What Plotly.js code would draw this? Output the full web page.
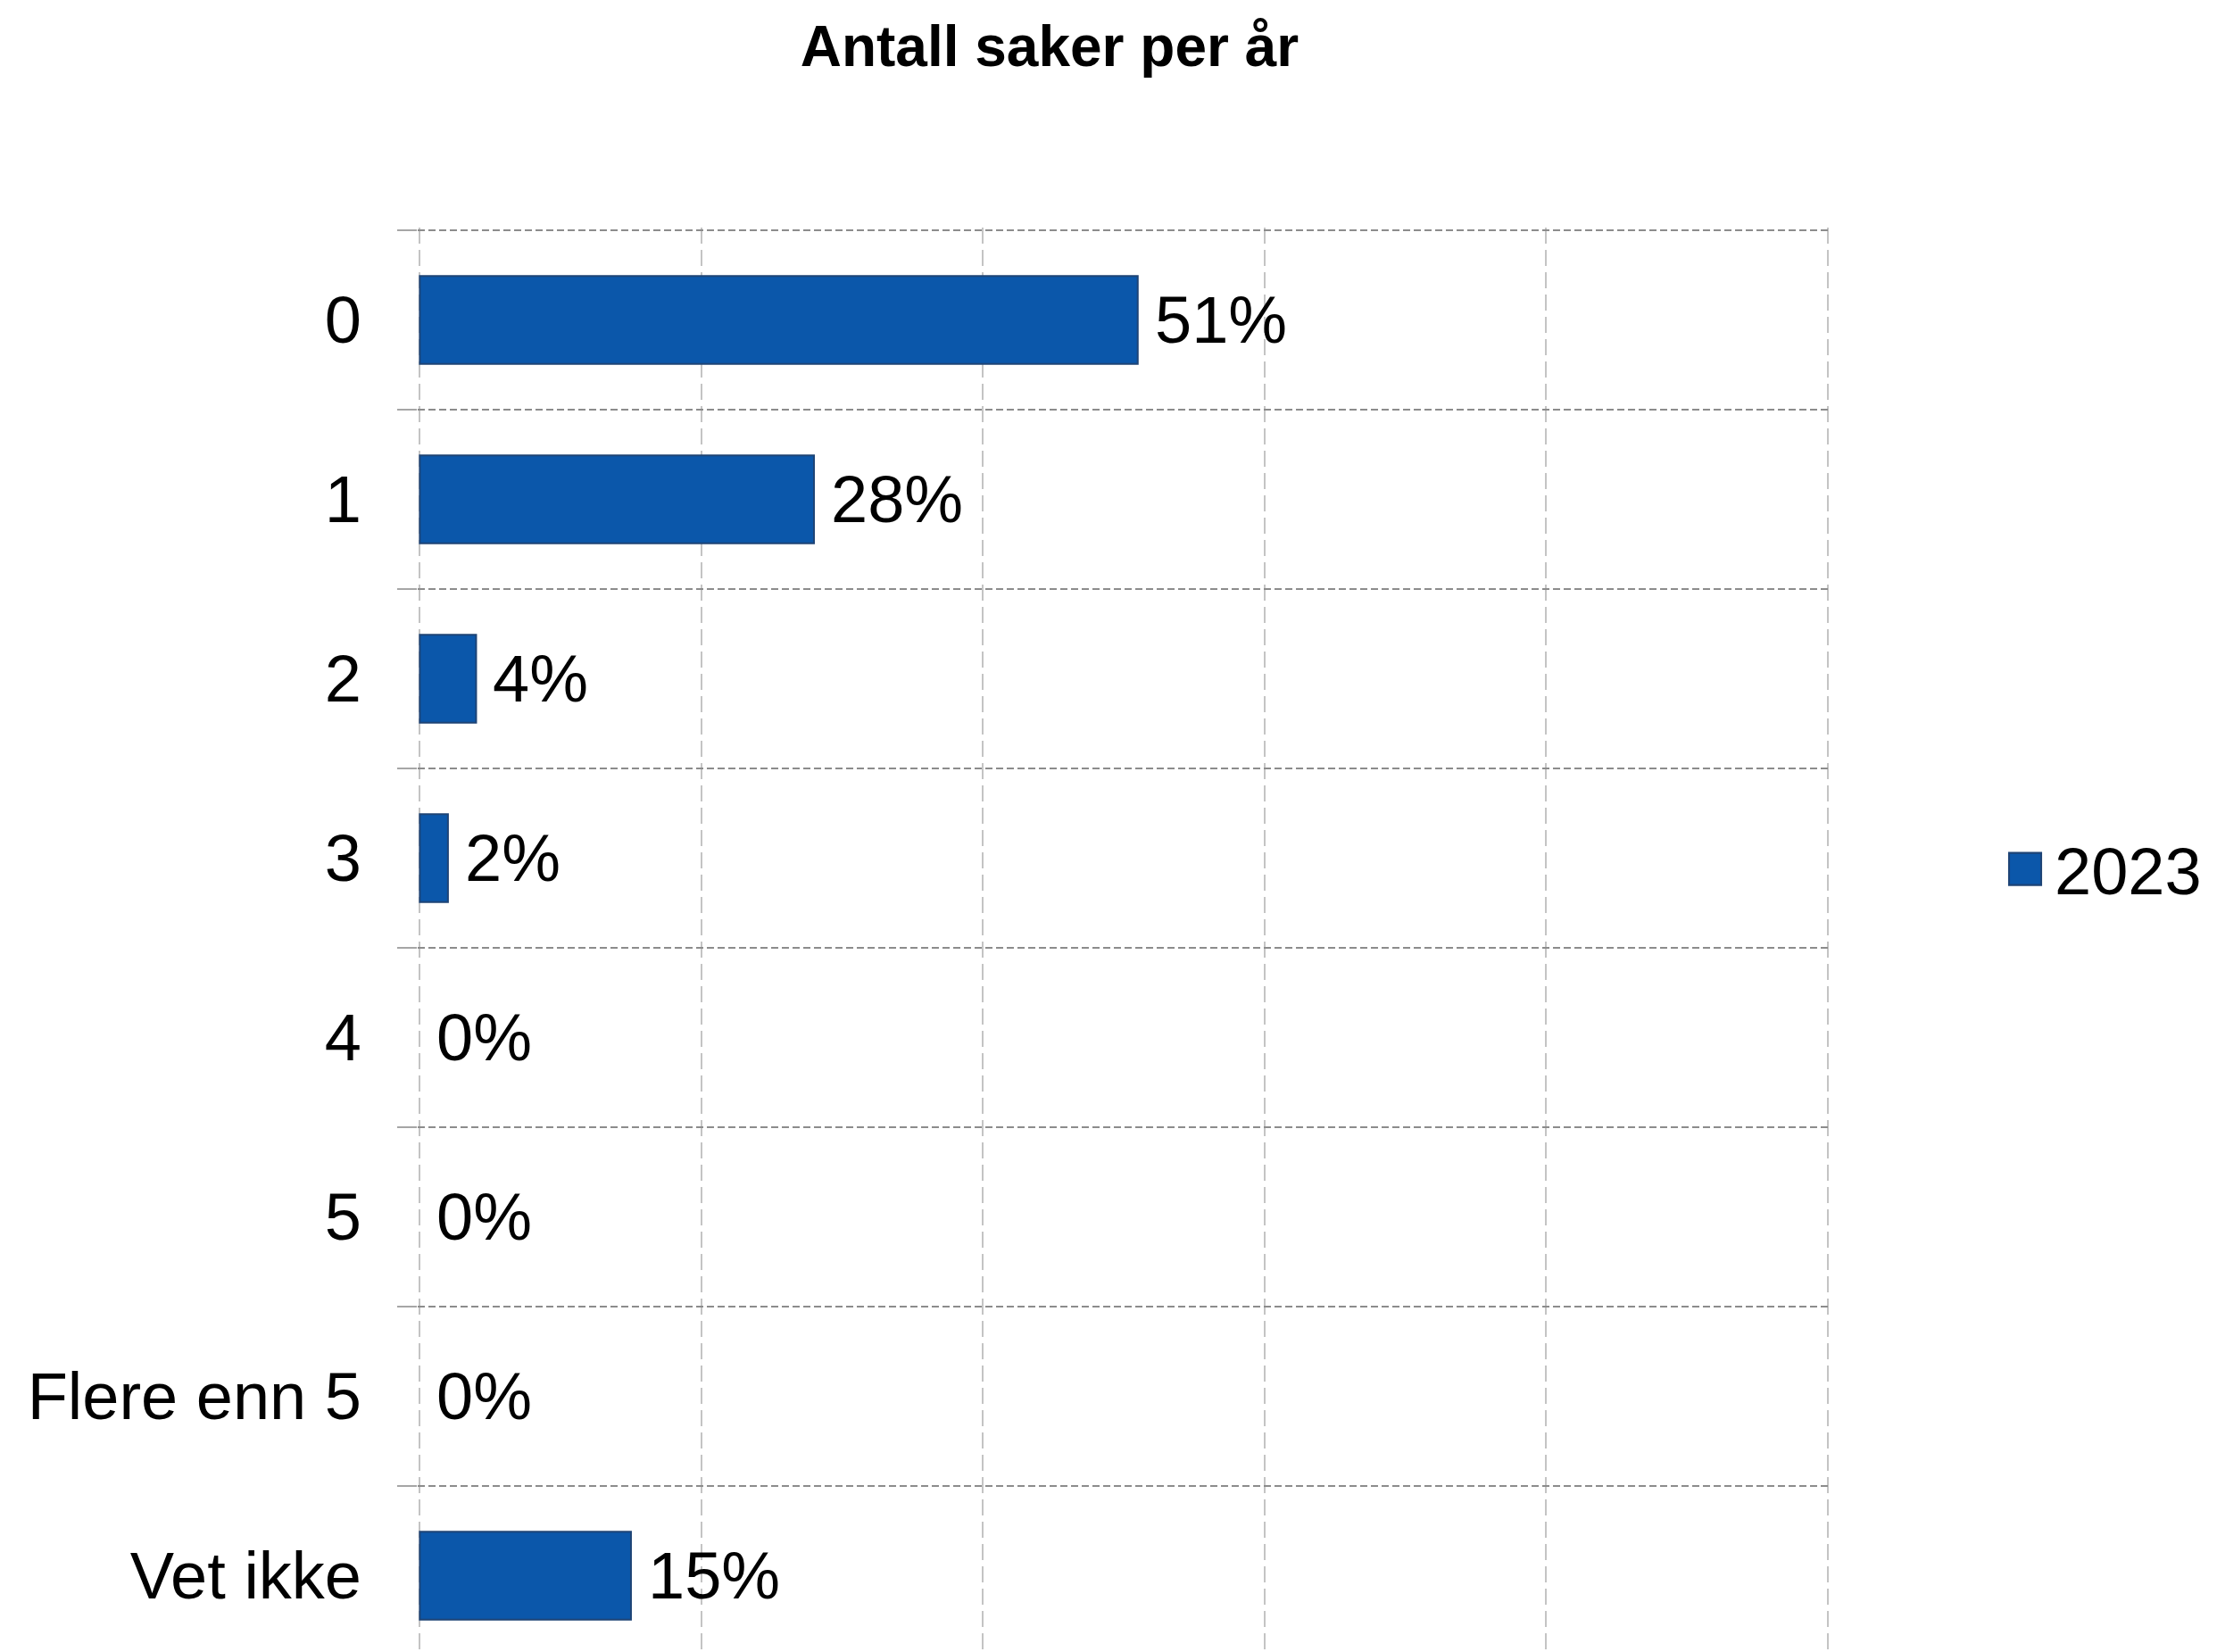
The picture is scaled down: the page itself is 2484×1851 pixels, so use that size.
<!DOCTYPE html>
<html>
<head>
<meta charset="utf-8">
<script src="https://cdn.plot.ly/plotly-3.0.1.min.js"></script>
<style>html,body{margin:0;padding:0;background:#fff;}#chart{width:2484px;height:1851px;}</style>
</head>
<body>
<div id="chart"></div>
<script>
const categories = ['0', '1', '2', '3', '4', '5', 'Flere enn 5', 'Vet ikke'];
const values2023 = [51, 28, 4, 2, 0, 0, 0, 15];
const seriesName = '2023';
const chartTitle = 'Antall saker per år';

const FONT = 'Liberation Sans, Arial, sans-serif';
const BAR_COLOR = '#0B57AA';
const BAR_LINE = '#1E4476';

const traces = [
  {
    type: 'bar',
    orientation: 'h',
    x: values2023,
    y: categories,
    name: seriesName,
    width: 0.49,
    marker: {
      color: BAR_COLOR,
      line: {color: BAR_LINE, width: values2023.map(v => v > 0 ? 2 : 0)}
    },
    showlegend: true,
    hoverinfo: 'skip'
  }
];

const annotations = values2023.map((v, i) => ({
  x: v,
  y: categories[i],
  xref: 'x',
  yref: 'y',
  text: v + '%',
  showarrow: false,
  xanchor: 'left',
  yanchor: 'middle',
  xshift: 17,
  font: {family: FONT, size: 74, color: '#000'}
}));

const layout = {
  width: 2484,
  height: 1851,
  paper_bgcolor: '#fff',
  plot_bgcolor: '#fff',
  font: {family: FONT, size: 74, color: '#000'},
  margin: {l: 468, r: 434, t: 255, b: 0, pad: 0},
  title: {
    text: chartTitle,
    font: {family: FONT, size: 64, color: '#000', weight: 700},
    xref: 'container', yref: 'container',
    x: 0.4734, xanchor: 'center',
    y: 0.972, yanchor: 'middle'
  },
  xaxis: {
    range: [-0.15, 100.15],
    dtick: 20,
    tick0: 0,
    showticklabels: false,
    showgrid: true,
    gridcolor: '#C4C4C4',
    gridwidth: 2,
    griddash: '18px,7px',
    zeroline: false,
    showline: false,
    ticks: ''
  },
  yaxis: {
    type: 'category',
    range: [7.425, -0.515],
    tickson: 'boundaries',
    ticks: 'outside',
    ticklen: 22,
    tickwidth: 2,
    tickcolor: '#A6A6A6',
    showgrid: true,
    gridcolor: '#8C8C8C',
    gridwidth: 2,
    griddash: '8px,4px',
    zeroline: false,
    showline: false,
    ticklabelstandoff: 62,
    tickfont: {family: FONT, size: 74, color: '#000'}
  },
  legend: {
    xref: 'container', yref: 'container',
    x: 2236 / 2484, xanchor: 'left',
    y: 1 - 974 / 1851, yanchor: 'middle',
    itemwidth: 56,
    bgcolor: 'rgba(0,0,0,0)',
    font: {family: FONT, size: 74, color: '#000'}
  },
  annotations: annotations,
  bargap: 0.51
};

Plotly.newPlot('chart', traces, layout, {displayModeBar: false, staticPlot: true}).then(gd => {
  // enlarge the legend swatch to match the reference's large square key
  gd.querySelectorAll('.legend .legendpoints path').forEach(p => {
    const t = p.getAttribute('transform') || '';
    p.setAttribute('transform', t + ' scale(3)');
    p.style.strokeWidth = '0.7px';
  });
});
</script>
</body>
</html>
